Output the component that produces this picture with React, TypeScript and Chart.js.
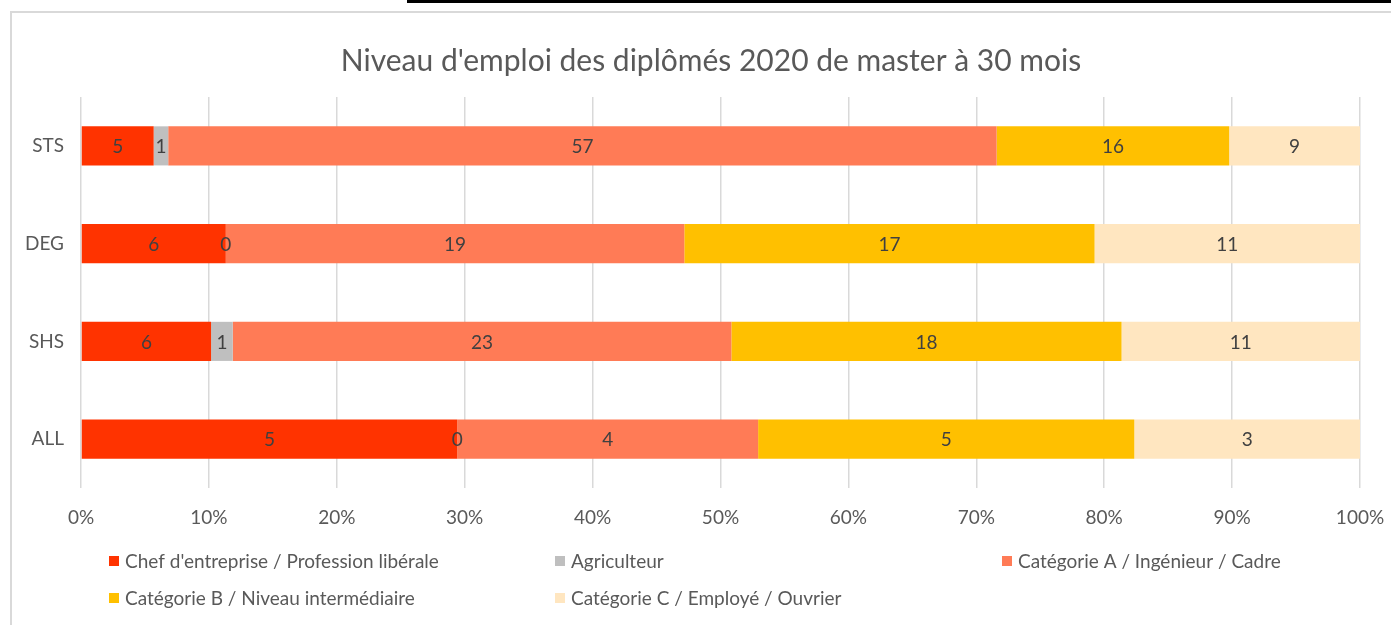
import React, { useEffect, useRef } from 'react';
import { Chart, registerables } from 'chart.js';

Chart.register(...registerables);

const TITLE = "Niveau d'emploi des diplômés 2020 de master à 30 mois";
const categories = ['STS', 'DEG', 'SHS', 'ALL'];
const seriesNames = [
  "Chef d'entreprise / Profession libérale",
  'Agriculteur',
  'Catégorie A / Ingénieur / Cadre',
  'Catégorie B / Niveau intermédiaire',
  'Catégorie C / Employé / Ouvrier',
];
const chefValues = [5, 6, 6, 5];
const agriValues = [1, 0, 1, 0];
const catAValues = [57, 19, 23, 4];
const catBValues = [16, 17, 18, 5];
const catCValues = [9, 11, 11, 3];
const seriesColors = ['#FF3300', '#BFBFBF', '#FF7B56', '#FFC000', '#FFE6C0'];
const xTickValues = [0, 10, 20, 30, 40, 50, 60, 70, 80, 90, 100];

const FONT = 'Lato, "Open Sans", sans-serif';
const TEXT = '#595959';
const FS = 19;

export default function App() {
  const ref = useRef<HTMLCanvasElement>(null);

  useEffect(() => {
    if (!ref.current) return;
    const raw = [chefValues, agriValues, catAValues, catBValues, catCValues];
    const totals = categories.map((_, i) => raw.reduce((s, arr) => s + arr[i], 0));

    const datasets = raw.map((arr, k) => ({
      label: seriesNames[k],
      data: arr.map((v, i) => (v / totals[i]) * 100),
      rawValues: arr,
      backgroundColor: seriesColors[k],
      borderWidth: 0,
      categoryPercentage: 1,
      barPercentage: 0.4,
    }));

    const labelPlugin = {
      id: 'barLabels',
      afterDatasetsDraw(chart: any) {
        const ctx = chart.ctx;
        ctx.save();
        ctx.font = `${FS}px ${FONT}`;
        ctx.fillStyle = '#404040';
        ctx.textAlign = 'center';
        ctx.textBaseline = 'middle';
        chart.data.datasets.forEach((ds: any, di: number) => {
          const meta = chart.getDatasetMeta(di);
          meta.data.forEach((el: any, i: number) => {
            const cx = (el.x + el.base) / 2;
            ctx.fillText(String(ds.rawValues[i]), cx, el.y + 1);
          });
        });
        ctx.restore();
      },
    };

    const titlePlugin = {
      id: 'customTitle',
      afterDraw(chart: any) {
        const ctx = chart.ctx;
        ctx.save();
        ctx.font = `30px ${FONT}`;
        ctx.fillStyle = TEXT;
        ctx.textAlign = 'center';
        ctx.textBaseline = 'middle';
        ctx.fillText(TITLE, 711, 61);
        ctx.restore();
      },
    };

    const legendPos = [
      [109, 561],
      [555, 561],
      [1002, 561],
      [109, 598],
      [555, 598],
    ];
    const legendPlugin = {
      id: 'customLegend',
      afterDraw(chart: any) {
        const ctx = chart.ctx;
        ctx.save();
        ctx.font = `${FS}px ${FONT}`;
        ctx.textBaseline = 'middle';
        ctx.textAlign = 'left';
        chart.data.datasets.forEach((ds: any, i: number) => {
          const [x, y] = legendPos[i];
          ctx.fillStyle = ds.backgroundColor;
          ctx.fillRect(x, y - 5, 10, 10);
          ctx.fillStyle = TEXT;
          ctx.fillText(ds.label, x + 16, y + 1);
        });
        ctx.restore();
      },
    };

    const chart = new Chart(ref.current, {
      type: 'bar',
      data: { labels: categories, datasets: datasets as any },
      options: {
        indexAxis: 'y',
        responsive: false,
        animation: false,
        layout: { padding: { top: 97, right: 31, left: 0, bottom: 0 } },
        plugins: {
          legend: { display: false },
          title: { display: false },
          tooltip: { enabled: false },
        },
        scales: {
          x: {
            stacked: true,
            min: 0,
            max: 100,
            afterBuildTicks: (scale: any) => {
              scale.ticks = xTickValues.map((v) => ({ value: v }));
            },
            ticks: {
              callback: (v: any) => v + '%',
              padding: 18,
              color: TEXT,
              font: { family: FONT, size: FS },
              maxRotation: 0,
            },
            grid: { color: '#D9D9D9', lineWidth: 1.5, drawTicks: false },
            border: { display: false },
            afterFit: (s: any) => {
              s.height = 137;
              s.paddingLeft = 0;
              s.paddingRight = 0;
            },
          },
          y: {
            stacked: true,
            grid: { display: false, drawTicks: false },
            border: { display: false },
            ticks: {
              padding: 17,
              color: TEXT,
              font: { family: FONT, size: FS },
            },
            afterFit: (s: any) => {
              s.width = 81;
              s.paddingTop = 0;
              s.paddingBottom = 0;
            },
          },
        },
      },
      plugins: [labelPlugin, titlePlugin, legendPlugin],
    });
    return () => chart.destroy();
  }, []);

  return (
    <div style={{ position: 'fixed', left: 0, top: 0, width: 1391, height: 625, overflow: 'hidden', background: '#fff' }}>
      <canvas ref={ref} width={1391} height={625} style={{ position: 'absolute', left: 0, top: 0 }} />
      <div style={{ position: 'absolute', left: 10, top: 11, width: 1500, height: 800, border: '2px solid #D9D9D9', boxSizing: 'border-box', pointerEvents: 'none' }} />
      <div style={{ position: 'absolute', left: 407, top: 0, width: 984, height: 3, background: '#000' }} />
    </div>
  );
}
